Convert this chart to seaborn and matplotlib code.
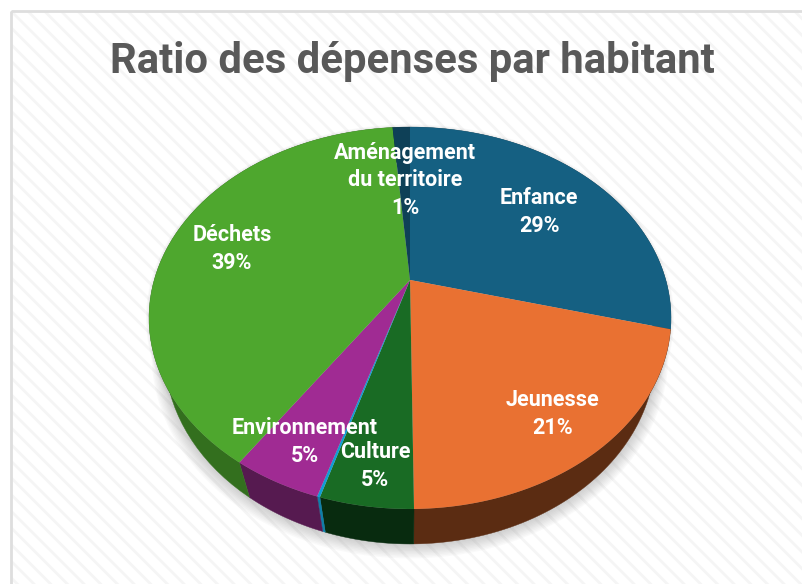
import numpy as np
import matplotlib
matplotlib.use("Agg")
import matplotlib.pyplot as plt
from matplotlib.path import Path
from matplotlib.patches import Rectangle
from matplotlib.transforms import Transform, Affine2D
import seaborn as sns

# data
categories = ["Enfance", "Jeunesse", "Culture", "", "Environnement", "Déchets", "Aménagement\ndu territoire"]
shares = [29.1, 20.7, 4.8, 0.15, 4.65, 39.3, 1.3]
shown_pct = ["29%", "21%", "5%", "", "5%", "39%", "1%"]
top_colors = ["#156082", "#E97132", "#196B24", "#0F9ED5", "#A02B93", "#4EA72E", "#0E4057"]
wall_colors = ["#0E4057", "#5B2C12", "#082B0F", "#0F7EA8", "#561A50", "#336F1E", "#0A2C3C"]
title = "Ratio des dépenses par habitant"

# layout (pixels of the 802x584 canvas)
W, H = 802, 584
APEX = (410.0, 280.0)
K, BY, AX = 0.199, 183.4, 255.8
DEPTH, WALL_SCALE = 35.0, 0.94
label_centers = [(539, 212), (553, 414), (375, 466), None, (305, 442), (232, 249), (405, 180.5)]

sns.set_theme(style="white")
plt.rcParams["font.family"] = ["Roboto", "DejaVu Sans"]
plt.rcParams["hatch.linewidth"] = 2.0
plt.rcParams["hatch.color"] = "#f5f5f5"


def project(u, v):
    w = 1 + K * np.asarray(v)
    return APEX[0] + AX * np.asarray(u) / w, APEX[1] - BY * np.asarray(v) / w


class Perspective(Transform):
    input_dims = output_dims = 2
    is_affine = False
    has_inverse = False

    def transform_non_affine(self, values):
        x, y = project(values[:, 0], values[:, 1])
        return np.column_stack([x, y])

    def transform_path_non_affine(self, path):
        # flatten the curves finely before bending them
        polys = path.transformed(Affine2D().scale(1000)).to_polygons(closed_only=True)
        verts = np.vstack(polys) / 1000
        codes = []
        for p in polys:
            codes += [Path.MOVETO] + [Path.LINETO] * (len(p) - 2) + [Path.CLOSEPOLY]
        return Path(self.transform_non_affine(verts), codes)


def rim(a):
    return project(np.sin(a), np.cos(a))


def lower(x, y):
    return APEX[0] + WALL_SCALE * (x - APEX[0]), y + DEPTH


fig = plt.figure(figsize=(W / 100, H / 100), dpi=100, facecolor="white")
ax = fig.add_axes([0, 0, 1, 1])
ax.set_axis_off()

# backdrop
ax.add_patch(Rectangle((11, 11), W, H, facecolor="white", edgecolor="#f5f5f5", hatch="\\\\", lw=0, zorder=0))
ax.add_patch(Rectangle((11, 11), W, H, facecolor="none", edgecolor="#dedede", lw=2.0, zorder=0.5))

# soft shadow
all_a = np.linspace(0, 2 * np.pi, 400)
xs, ys = rim(all_a)
lx, ly = lower(xs, ys)
cx, cy = APEX[0], ly.mean()
for g in np.linspace(13, 1, 10):
    ax.fill(cx + (lx - cx) * (1 + g / 245), cy + (ly - cy) * (1 + g / 190), color="#707070", alpha=0.035, lw=0, zorder=1)
for g in np.linspace(3, 1, 3):
    ax.fill(cx + (xs - cx) * (1 + g / 261), ys.mean() + (ys - ys.mean()) * (1 + g / 191), color="#606060", alpha=0.035, lw=0, zorder=1)

# side wall, one band per share
edges = np.radians(np.concatenate([[0], np.cumsum(shares)]) * 3.6)
for a0, a1, col in zip(edges[:-1], edges[1:], wall_colors):
    a = np.linspace(a0, a1, 60)
    x, y = rim(a)
    bx, by = lower(x, y)
    ax.fill(np.r_[x, bx[::-1]], np.r_[y, by[::-1]], color=col, lw=0.3, zorder=2)

# top face: a real pie, pushed through the perspective
wedges, _ = ax.pie(shares, colors=sns.color_palette(top_colors), startangle=90, counterclock=False, frame=True)
persp = Perspective() + ax.transData
for w in wedges:
    w.set_transform(persp)
    w.set_zorder(3)
    w.set_linewidth(0)
ax.set_aspect("auto")
ax.set_xlim(0, W)
ax.set_ylim(H, 0)
ax.set_axis_off()

for name, pct, pos in zip(categories, shown_pct, label_centers):
    if pos is None:
        continue
    ax.text(pos[0], pos[1], f"{name}\n{pct}", color="white", fontsize=15.5, fontweight="bold",
            ha="center", va="center", linespacing=1.33, zorder=5)

ax.text(412, 61, title, color="#595959", fontsize=30.2, fontweight="bold", ha="center", va="center", zorder=5)

fig.savefig("out.png", dpi=100)
